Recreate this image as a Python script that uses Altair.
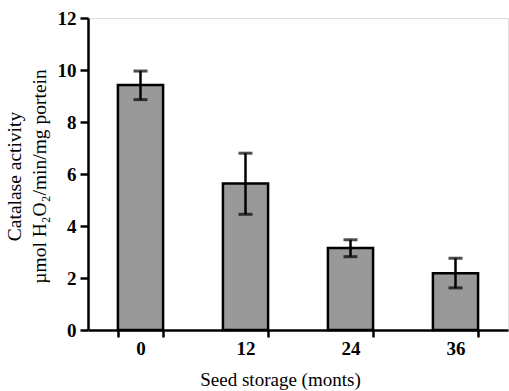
import altair as alt
import pandas as pd

months = ["0", "12", "24", "36"]
activity = [9.42, 5.63, 3.15, 2.18]
err_low = [8.86, 4.45, 2.82, 1.62]
err_high = [9.96, 6.80, 3.47, 2.76]

df = pd.DataFrame({"month": months, "act": activity, "lo": err_low, "hi": err_high})

FONT = "Liberation Serif"

x_enc = alt.X(
    "month:N",
    sort=months,
    scale=alt.Scale(paddingInner=0.57, paddingOuter=0.285),
    axis=alt.Axis(
        title="Seed storage (monts)",
        labelAngle=0,
        tickBand="extent",
        domainColor="black", domainWidth=2.5,
        tickColor="black", tickWidth=2.5, tickSize=7,
        labelFont=FONT, labelFontWeight="bold", labelFontSize=19, labelColor="black",
        labelPadding=2,
        titleFont=FONT, titleFontWeight="normal", titleFontSize=19, titleColor="black",
        titleX=192, titleY=55, titleBaseline="alphabetic", titleAlign="center",
    ),
)

y_scale = alt.Scale(domain=[0, 12], nice=False)

bars = alt.Chart(df).mark_bar(
    fill="#999999", stroke="black", strokeWidth=2.5
).encode(
    x=x_enc,
    y=alt.Y(
        "act:Q",
        scale=y_scale,
        axis=alt.Axis(
            title=["Catalase activity", "µmol H₂O₂/min/mg portein"],
            values=[0, 2, 4, 6, 8, 10, 12],
            grid=False,
            domainColor="black", domainWidth=2.5,
            tickColor="black", tickWidth=2.5, tickSize=8,
            labelFont=FONT, labelFontWeight="bold", labelFontSize=19, labelColor="black",
            labelPadding=4,
            titleFont=FONT, titleFontWeight="normal", titleFontSize=19.5, titleColor="black",
            titleLineHeight=25,
            titleX=-68, titleY=158, titleAngle=270,
            titleBaseline="alphabetic", titleAlign="center",
        ),
    ),
)

rules = alt.Chart(df).mark_rule(color="black", strokeWidth=2.5).encode(
    x=alt.X("month:N", sort=months),
    y=alt.Y("lo:Q", scale=y_scale),
    y2="hi:Q",
)

cap_lo = alt.Chart(df).mark_tick(color="black", thickness=3, size=14, orient="horizontal").encode(
    x=alt.X("month:N", sort=months),
    y=alt.Y("lo:Q", scale=y_scale),
)
cap_hi = alt.Chart(df).mark_tick(color="black", thickness=3, size=14, orient="horizontal").encode(
    x=alt.X("month:N", sort=months),
    y=alt.Y("hi:Q", scale=y_scale),
)

chart = alt.layer(bars, rules, cap_lo, cap_hi).properties(
    width=420,
    height=312,
    autosize=alt.AutoSizeParams(type="none"),
    padding={"left": 88, "top": 18, "right": 1, "bottom": 61},
).configure_view(stroke=None).configure(background="white")

chart.save("out.html", embed_options={"renderer": "svg", "actions": False})
